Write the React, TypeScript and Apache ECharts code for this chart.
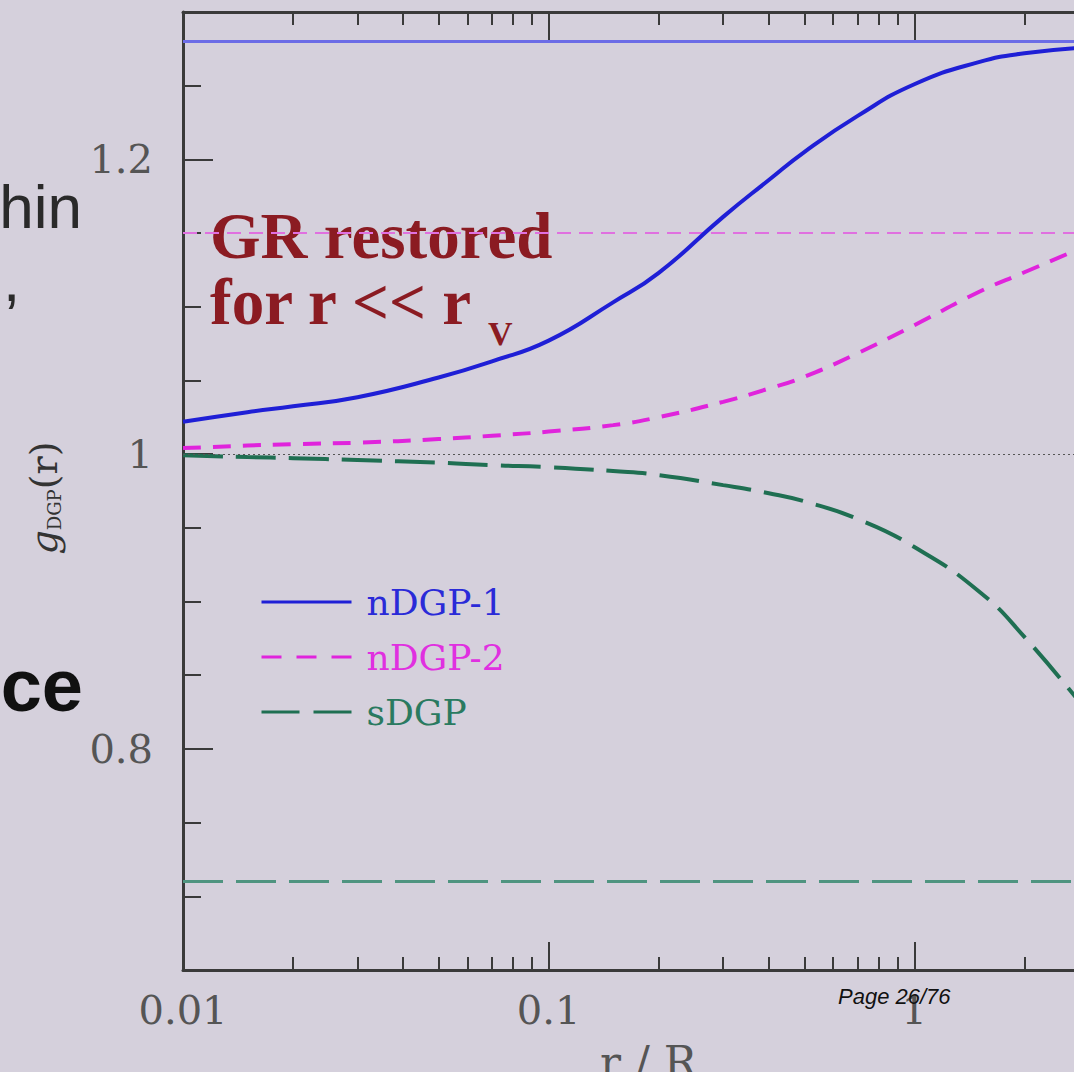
import React, { useEffect, useRef } from "react";
import * as echarts from "echarts";

// ---- data ----
const rValues = [0.01, 0.015, 0.02, 0.03, 0.05, 0.07, 0.1, 0.15, 0.2, 0.3, 0.4, 0.5, 0.7, 1.0, 1.5, 2.0, 3.0];
const nDGP1Values = [1.022, 1.0285, 1.0325, 1.0386, 1.052, 1.063, 1.077, 1.103, 1.123, 1.161, 1.186, 1.205, 1.2295, 1.251, 1.266, 1.272, 1.276];
const nDGP2Values = [1.0041, 1.0058, 1.0068, 1.0078, 1.0102, 1.0125, 1.0153, 1.0197, 1.0251, 1.0355, 1.0445, 1.0525, 1.0685, 1.0875, 1.11, 1.1234, 1.142];
const sDGPValues = [0.9993, 0.998, 0.9973, 0.996, 0.9942, 0.9925, 0.9912, 0.9885, 0.9858, 0.979, 0.9735, 0.968, 0.956, 0.937, 0.907, 0.876, 0.824];

const seriesNames = ["nDGP-1", "nDGP-2", "sDGP"];
const nDGP1Limit = 1.277;
const nDGP2Limit = 1.15;
const grValue = 1.0;
const sDGPLimit = 0.708;

const xMinorTicks = [0.02, 0.03, 0.04, 0.05, 0.06, 0.07, 0.08, 0.09, 0.2, 0.3, 0.4, 0.5, 0.6, 0.7, 0.8, 0.9, 2, 3, 4, 5, 6, 7, 8, 9];
const yMajorTicks = [0.8, 1.0, 1.2];
const yMinorTicks = [0.65, 0.7, 0.75, 0.85, 0.9, 0.95, 1.05, 1.1, 1.15, 1.25, 1.3];

const BG = "#d5d0dc";
const AXIS = "#3a3a3a";
const BLUE = "#1f1fd6";
const MAGENTA = "#e024dc";
const GREEN = "#1f6f52";
const SERIF = "DejaVu Serif";

const fmtDecade = (v: number) => {
  const e = Math.round(Math.log10(v));
  return e >= 0 ? String(Math.pow(10, e)) : Math.pow(10, e).toFixed(-e);
};

const majorTick = { show: true, inside: true, length: 28, lineStyle: { color: AXIS, width: 2 } };
const minorTick = { show: true, inside: true, length: 13, lineStyle: { color: AXIS, width: 2 } };

function buildOption() {
  const minorExp = xMinorTicks.map((v) => Math.log10(v));
  const logX = (position: string, labels: boolean) => ({
    type: "log",
    logBase: 10,
    min: 0.01,
    max: 10,
    position,
    axisLine: { show: true, onZero: false, lineStyle: { color: AXIS, width: 3 } },
    axisTick: majorTick,
    splitLine: { show: false },
    axisLabel: labels
      ? { show: true, margin: 20, formatter: fmtDecade, fontFamily: SERIF, fontSize: 40, color: "#555" }
      : { show: false },
  });
  const minorX = (position: string) => ({
    type: "value",
    min: -2,
    max: 1,
    position,
    axisLine: { show: false, onZero: false },
    axisTick: { ...minorTick, customValues: minorExp },
    axisLabel: { show: false },
    splitLine: { show: false },
  });

  const lineSeries = (name: string, values: number[], color: string, type: any, z: number, markLine: any) => ({
    name,
    type: "line",
    xAxisIndex: 0,
    yAxisIndex: 0,
    data: rValues.map((r, i) => [r, values[i]]),
    symbol: "none",
    showSymbol: false,
    smooth: 0.5,
    z,
    lineStyle: { color, width: 4, type },
    itemStyle: { color },
    markLine,
  });

  return {
    animation: false,
    backgroundColor: BG,
    grid: { left: 183, top: 12, width: 1097, height: 958, containLabel: false, outerBoundsMode: "none" },
    xAxis: [logX("bottom", true), minorX("bottom"), logX("top", false), minorX("top")],
    yAxis: [
      {
        type: "value",
        min: 0.65,
        max: 1.3,
        position: "left",
        axisLine: { show: true, onZero: false, lineStyle: { color: AXIS, width: 3 } },
        axisTick: { ...majorTick, length: 30, customValues: yMajorTicks },
        axisLabel: {
          show: true,
          customValues: yMajorTicks,
          margin: 30,
          fontFamily: SERIF,
          fontSize: 40,
          color: "#555",
          formatter: (v: number) => String(Math.round(v * 10) / 10),
        },
        splitLine: { show: false },
      },
      {
        type: "value",
        min: 0.65,
        max: 1.3,
        position: "left",
        axisLine: { show: false, onZero: false },
        axisTick: { ...minorTick, length: 18, customValues: yMinorTicks },
        axisLabel: { show: false },
        splitLine: { show: false },
      },
    ],
    legend: {
      orient: "vertical",
      left: 255,
      top: 579,
      itemWidth: 90,
      itemHeight: 16,
      itemGap: 19,
      selectedMode: false,
      itemStyle: { opacity: 0, borderWidth: 0 },
      lineStyle: { width: 3 },
      textStyle: { fontFamily: SERIF, fontSize: 36, lineHeight: 36, padding: [0, 0, 0, 10] },
      data: [
        { name: seriesNames[0], textStyle: { color: "#2a2ad8" } },
        { name: seriesNames[1], textStyle: { color: "#e030e0" }, lineStyle: { width: 3, type: [20, 15] } },
        { name: seriesNames[2], textStyle: { color: "#2a7a60" }, lineStyle: { width: 3, type: [38, 14] } },
      ],
    },
    series: [
      lineSeries(seriesNames[0], nDGP1Values, BLUE, "solid", 5, {
        silent: true,
        symbol: ["none", "none"],
        label: { show: false },
        lineStyle: { color: "#6c6ce6", width: 3, type: "solid" },
        data: [{ yAxis: nDGP1Limit }],
      }),
      lineSeries(seriesNames[1], nDGP2Values, MAGENTA, [18, 12], 4, {
        silent: true,
        symbol: ["none", "none"],
        label: { show: false },
        lineStyle: { color: "#e070e0", width: 2, type: [14, 8] },
        data: [{ yAxis: nDGP2Limit }],
      }),
      lineSeries(seriesNames[2], sDGPValues, GREEN, [40, 13], 4, {
        silent: true,
        symbol: ["none", "none"],
        label: { show: false },
        data: [
          { yAxis: sDGPLimit, lineStyle: { color: "#4f9480", width: 3, type: [40, 13] } },
          { yAxis: grValue, lineStyle: { color: "#555", width: 1, type: [2, 3] } },
        ],
      }),
    ],
    graphic: [
      // slide text fragments to the left of the plot
      { type: "text", z: 0, x: 82, y: 206, style: { text: "hin", font: '62px "Liberation Sans"', fill: "#2a2a2a", align: "right", verticalAlign: "middle" } },
      { type: "text", z: 0, x: 3, y: 279, style: { text: ",", font: '62px "Liberation Sans"', fill: "#2a2a2a", align: "left", verticalAlign: "middle" } },
      { type: "text", z: 0, x: 83, y: 685, style: { text: "ce", font: 'bold 74px "Liberation Sans"', fill: "#111", align: "right", verticalAlign: "middle" } },
      // annotation
      {
        type: "text",
        z: 0,
        x: 210,
        y: 203,
        style: {
          text: "GR restored\nfor r << r",
          font: 'bold 65px "Liberation Serif"',
          lineHeight: 66,
          fill: "#8b1b22",
          align: "left",
          verticalAlign: "top",
        },
      },
      { type: "text", z: 0, x: 488, y: 333, style: { text: "V", font: 'bold 34px "Liberation Serif"', fill: "#8b1b22", align: "left", verticalAlign: "middle" } },
      // y axis title (rotated)
      {
        type: "text",
        z: 0,
        x: 44,
        y: 498,
        rotation: Math.PI / 2,
        style: {
          text: "{g|g}{s|DGP}{p|(r)}",
          align: "center",
          verticalAlign: "middle",
          fill: "#333",
          rich: {
            g: { fontFamily: SERIF, fontStyle: "italic", fontSize: 38, fill: "#333", verticalAlign: "middle" },
            s: { fontFamily: SERIF, fontSize: 18, fill: "#333", verticalAlign: "bottom" },
            p: { fontFamily: SERIF, fontSize: 38, fill: "#333", verticalAlign: "middle" },
          },
        },
      },
      // x axis title
      { type: "text", z: 0, x: 600, y: 1062, style: { text: "r / R", font: `44px "${SERIF}"`, fill: "#555", align: "left", verticalAlign: "middle" } },
      // page number
      { type: "text", z: 10, x: 838, y: 996, style: { text: "Page 26/76", font: 'italic 22px "Liberation Sans"', fill: "#111", align: "left", verticalAlign: "middle" } },
    ],
  };
}

export default function App() {
  const ref = useRef<HTMLDivElement>(null);
  useEffect(() => {
    if (!ref.current) return;
    const chart = echarts.init(ref.current, undefined, { renderer: "svg" });
    chart.setOption(buildOption() as any);
    return () => chart.dispose();
  }, []);
  return (
    <div
      ref={ref}
      style={{ position: "fixed", left: 0, top: 0, width: 1074, height: 1072, background: BG, overflow: "hidden" }}
    />
  );
}
